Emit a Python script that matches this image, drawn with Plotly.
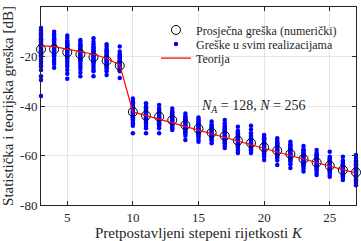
import plotly.graph_objects as go

# Sparsity levels K
K = list(range(3, 28))

# Average (numerical) error per K [dB]
mean_err = [-17.1, -17.1, -18.3, -19.1, -20.3, -21.7, -23.7,
            -42.4, -43.9, -44.3, -45.7, -47.7, -49.2, -50.8, -52.1,
            -54.0, -55.0, -56.7, -58.0, -59.4, -61.4, -62.8, -64.1, -65.9, -66.8]

# Theoretical error per K [dB]
theory = [-15.6, -16.0, -17.0, -18.0, -19.1, -20.7, -23.4,
          -42.4, -43.9, -45.4, -46.9, -48.4, -49.9, -51.4, -52.9,
          -54.4, -55.8, -57.2, -58.6, -60.0, -61.5, -62.9, -64.3, -65.7, -67.1]

# Errors in all realizations, one list per K
dots_03 = [-8.5, -9.5, -10.5, -11, -12, -12.5, -13, -13.5, -14, -14.5, -15, -15.5, -16, -16.5, -17,
           -17.5, -18, -18.5, -19, -19.5, -20, -21, -22, -23, -24, -25.5, -28, -29.5, -36]
dots_04 = [-10, -11, -12, -12.5, -13, -13.5, -14, -14.5, -15, -15.5, -16, -16.5, -17, -17.5, -18,
           -18.5, -19, -19.5, -20, -21, -22, -23, -24.5]
dots_05 = [-11.5, -12.5, -13.5, -14, -14.5, -15, -15.5, -16, -16.5, -17, -17.5, -18, -18.5, -19,
           -19.5, -20, -20.5, -21, -22, -23, -24, -25.5, -27, -29]
dots_06 = [-13.3, -14, -15, -15.5, -16, -16.5, -17, -17.5, -18, -18.5, -19, -19.5, -20, -20.5, -21,
           -21.5, -22, -23, -24, -25, -26.5, -28]
dots_07 = [-12.6, -14, -15, -16, -16.5, -17, -17.5, -18, -18.5, -19, -19.5, -20, -20.5, -21, -21.5,
           -22, -22.5, -23, -24, -25, -26, -28]
dots_08 = [-15, -16, -17, -17.5, -18, -18.5, -19, -19.5, -20, -20.5, -21, -21.5, -22, -22.5, -23,
           -23.5, -24, -24.5, -25, -26, -27.5]
dots_09 = [-16, -18, -19, -19.5, -20, -20.5, -21, -21.5, -22, -22.5, -23, -23.5, -24, -24.5, -25,
           -25.5, -26, -28.7]
dots_10 = [-37, -38, -38.5, -39, -39.5, -40, -40.5, -41, -41.5, -42, -42.5, -43, -43.5, -44, -44.5,
           -45, -45.5, -46, -47, -48, -51]
dots_11 = [-38.9, -40, -40.5, -41, -41.5, -42, -42.5, -43, -43.5, -44, -44.5, -45, -45.5, -46, -46.5,
           -47, -48, -49, -51]
dots_12 = [-39.6, -41, -41.5, -42, -42.5, -43, -43.5, -44, -44.5, -45, -45.5, -46, -46.5, -47, -47.5,
           -48, -49, -51]
dots_13 = [-41, -42, -42.5, -43, -43.5, -44, -44.5, -45, -45.5, -46, -46.5, -47, -47.5, -48, -48.5,
           -49, -49.7]
dots_14 = [-43, -44, -44.5, -45, -45.5, -46, -46.5, -47, -47.5, -48, -48.5, -49, -49.5, -50, -50.5,
           -51, -52, -53.7]
dots_15 = [-44.6, -45.5, -46, -46.5, -47, -47.5, -48, -48.5, -49, -49.5, -50, -50.5, -51, -51.5, -52,
           -52.5, -53.5, -54.4]
dots_16 = [-46.3, -47.5, -48, -48.5, -49, -49.5, -50, -50.5, -51, -51.5, -52, -52.5, -53, -53.5, -54,
           -55]
dots_17 = [-45.7, -47, -48, -48.5, -49, -49.5, -50, -50.5, -51, -51.5, -52, -52.5, -53, -53.5, -54,
           -54.5, -55, -56, -57]
dots_18 = [-48.4, -50, -50.5, -51, -51.5, -52, -52.5, -53, -53.5, -54, -54.5, -55, -55.5, -56, -56.5,
           -57, -58, -59]
dots_19 = [-48, -49.5, -51, -52, -52.5, -53, -53.5, -54, -54.5, -55, -55.5, -56, -56.5, -57, -57.5,
           -58, -59]
dots_20 = [-51.7, -52.5, -53, -53.5, -54, -54.5, -55, -55.5, -56, -56.5, -57, -57.5, -58, -58.5, -59,
           -59.5, -60.5, -61.8]
dots_21 = [-53, -54, -54.5, -55, -55.5, -56, -56.5, -57, -57.5, -58, -58.5, -59, -59.5, -60, -60.5,
           -61, -62, -63.8]
dots_22 = [-54.4, -55.5, -56, -56.5, -57, -57.5, -58, -58.5, -59, -59.5, -60, -60.5, -61, -61.5, -62,
           -62.5, -63.5, -65]
dots_23 = [-56.2, -57.5, -58, -58.5, -59, -59.5, -60, -60.5, -61, -61.5, -62, -62.5, -63, -63.5, -64,
           -64.5, -65.5, -66.5]
dots_24 = [-57.8, -59, -59.5, -60, -60.5, -61, -61.5, -62, -62.5, -63, -63.5, -64, -64.5, -65, -65.5,
           -66, -67, -67.9]
dots_25 = [-58.5, -60.5, -61, -61.5, -62, -62.5, -63, -63.5, -64, -64.5, -65, -65.5, -66, -66.5, -67,
           -67.8, -68.6]
dots_26 = [-60.5, -62, -62.5, -63, -63.5, -64, -64.5, -65, -65.5, -66, -66.5, -67, -67.5, -68, -68.5,
           -69, -69.9]
dots_27 = [-59.8, -61, -62, -62.5, -63, -63.5, -64, -64.5, -65, -65.5, -66, -66.5, -67, -67.5, -68,
           -68.5, -69, -69.5, -70, -71, -72]

x_ticks = [5, 10, 15, 20, 25]
y_ticks = [0, -20, -40, -60, -80]
y_tick_labels = ["0", "-20", "-40", "-60", "-80"]

all_dots = [dots_03, dots_04, dots_05, dots_06, dots_07, dots_08, dots_09, dots_10, dots_11,
            dots_12, dots_13, dots_14, dots_15, dots_16, dots_17, dots_18, dots_19, dots_20,
            dots_21, dots_22, dots_23, dots_24, dots_25, dots_26, dots_27]
dot_x, dot_y = [], []
for k, vals in zip(K, all_dots):
    dot_x += [k] * len(vals)
    dot_y += vals

FONT = "Liberation Serif"
TXT = "#262626"

fig = go.Figure()
fig.add_trace(go.Scatter(
    x=dot_x, y=dot_y, mode="markers", name="Greške u svim realizacijama",
    marker=dict(color="#0000ff", size=4.5, line=dict(width=0)), cliponaxis=False,
    legend="legend2"))
fig.add_trace(go.Scatter(
    x=K, y=mean_err, mode="markers", name="Prosječna greška (numerički)",
    marker=dict(symbol="circle-open", color="black", size=9, line=dict(width=1)),
    cliponaxis=False, legend="legend"))
fig.add_trace(go.Scatter(
    x=K, y=theory, mode="lines", name="Teorija",
    line=dict(color="#ff0000", width=1.2), legend="legend3"))

axis_common = dict(
    showline=True, linecolor=TXT, linewidth=1, mirror="ticks",
    ticks="inside", ticklen=4, tickcolor=TXT,
    showgrid=True, gridcolor="#e5e5e5", gridwidth=1, zeroline=False,
    tickfont=dict(family=FONT, size=13, color=TXT),
)

fig.update_xaxes(range=[3, 27], tickvals=x_ticks,
                 title=dict(text="Pretpostavljeni stepeni rijetkosti <i>K</i>",
                            font=dict(family=FONT, size=15, color=TXT), standoff=0),
                 **axis_common)
fig.update_yaxes(range=[-80, 0], tickvals=y_ticks, ticktext=y_tick_labels,
                 title=dict(text="Statistička i teorijska greška [dB]",
                            font=dict(family=FONT, size=15, color=TXT), standoff=5),
                 **axis_common)

fig.add_annotation(x=15, y=-40, xanchor="left", yanchor="middle", showarrow=False,
                   text="<i>N</i><sub><i>A</i></sub> = 128, <i>N</i> = 256",
                   font=dict(family=FONT, size=14, color=TXT))

leg = dict(xanchor="left", yanchor="middle", bgcolor="rgba(0,0,0,0)", borderwidth=0,
           font=dict(family=FONT, size=12, color=TXT), itemsizing="trace")
fig.update_layout(
    width=361, height=241,
    margin=dict(l=41, r=5, t=7, b=36),
    plot_bgcolor="white", paper_bgcolor="white",
    showlegend=True,
    legend=dict(x=0.365, y=0.884, **leg),
    legend2=dict(x=0.365, y=0.813, **leg),
    legend3=dict(x=0.365, y=0.742, **leg),
)

fig.write_html("out.html", config={"displayModeBar": False},
               post_script="document.body.style.margin='0';")
